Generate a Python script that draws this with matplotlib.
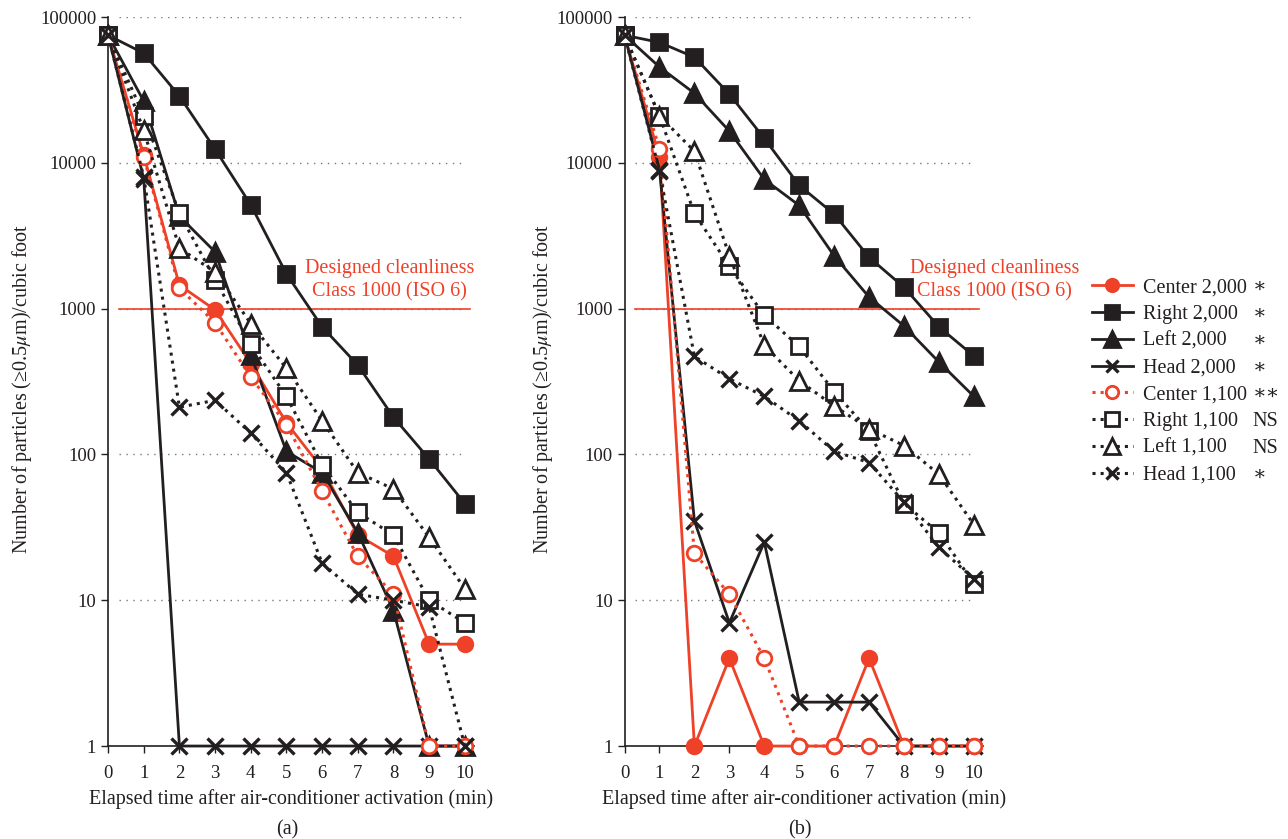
import matplotlib
matplotlib.use('Agg')
import matplotlib.pyplot as plt

plt.rcParams['font.family'] = ['Liberation Serif', 'DejaVu Serif']
plt.rcParams['mathtext.fontset'] = 'stix'

red = '#ee4128'
black = '#231f20'

minutes = list(range(0, 11))

# panel (a)
a_center_2000 = [75000, 11300, 1450, 980, 420, 165, 80, 28, 20, 5, 5]
a_right_2000 = [75000, 56500, 28700, 12400, 5150, 1730, 750, 410, 180, 93, 46]
a_left_2000 = [75000, 26500, 4300, 2450, 480, 105, 75, 29, 8.5, 1, 1]
a_head_2000 = [75000, 7800, 1, 1, 1, 1, 1, 1, 1, 1, 1]
a_center_1100 = [75000, 11000, 1380, 800, 340, 160, 56, 20, 11, 1, 1]
a_right_1100 = [75000, 21000, 4500, 1580, 570, 250, 85, 40, 28, 10, 7]
a_left_1100 = [75000, 16700, 2600, 1780, 790, 390, 170, 75, 58, 27, 12]
a_head_1100 = [75000, 8000, 211, 235, 140, 75, 18, 11, 10, 9, 1]

# panel (b)
b_center_2000 = [75000, 11000, 1, 4, 1, 1, 1, 4, 1, 1, 1]
b_right_2000 = [75000, 67000, 53000, 29600, 14700, 7000, 4450, 2250, 1400, 750, 473]
b_left_2000 = [75000, 45400, 30000, 16500, 7700, 5100, 2300, 1200, 760, 430, 250]
b_head_2000 = [75000, 9000, 35, 7, 25, 2, 2, 2, 1, 1, 1]
b_center_1100 = [75000, 12500, 21, 11, 4, 1, 1, 1, 1, 1, 1]
b_right_1100 = [75000, 21000, 4500, 1950, 900, 550, 270, 145, 46, 29, 13]
b_left_1100 = [75000, 21000, 12000, 2300, 560, 320, 215, 150, 115, 73, 33]
b_head_1100 = [75000, 8800, 470, 330, 250, 170, 105, 88, 47, 23, 14]

labels = ['Center 2,000', 'Right 2,000', 'Left 2,000', 'Head 2,000',
          'Center 1,100', 'Right 1,100', 'Left 1,100', 'Head 1,100']
significance = ['\u2217', '\u2217', '\u2217', '\u2217', '\u2217\u2217', 'NS', 'NS', '\u2217']

class_limit = 1000
class_text = 'Designed cleanliness\nClass 1000 (ISO 6)'
ylabel = 'Number of particles (\u22650.5$\\mu$m)/cubic foot'
xlabel = 'Elapsed time after air-conditioner activation (min)'

# one style per series: color, marker, filled, linestyle, markersize
styles = [
    (red, 'o', True, '-', 10.5),
    (black, 's', True, '-', 12),
    (black, '^', True, '-', 13),
    (black, 'x', True, '-', 11),
    (red, 'o', False, ':', 10.5),
    (black, 's', False, ':', 12),
    (black, '^', False, ':', 13),
    (black, 'x', False, ':', 11),
]


def draw_panel(ax, series, label_x, text_x, ylab_x):
    handles = []
    for values, (color, marker, filled, ls, ms), label in zip(series, styles, labels):
        face = color if filled else 'white'
        mew = 2.4 if marker == 'x' else 2
        h, = ax.plot(minutes, values, color=color, linestyle=ls,
                     linewidth=2 if ls == '-' else 2.2,
                     marker=marker, markersize=ms, markerfacecolor=face,
                     markeredgecolor=color, markeredgewidth=mew,
                     label=label, clip_on=False, zorder=3)
        handles.append(h)
    ax.set_yscale('log')
    ax.set_ylim(1, 100000)
    ax.set_xlim(0, 10.25)
    ax.set_yticks([1, 10, 100, 1000, 10000, 100000])
    ax.set_yticklabels(['1', '10', '100', '1000', '10000', '100000'])
    ax.minorticks_off()
    ax.set_xticks(minutes)
    ax.tick_params(labelsize=13.5, length=5, width=1, color=black, labelcolor=black)
    ax.tick_params(axis='x', pad=9)
    ax.spines['top'].set_visible(False)
    ax.spines['right'].set_visible(False)
    for s in ['left', 'bottom']:
        ax.spines[s].set_color(black)
        ax.spines[s].set_linewidth(1.2)
    for v in [10, 100, 1000, 10000, 100000]:
        ax.axhline(v, xmin=0.03, xmax=0.98, color='#777777', linestyle=(0, (1, 4)),
                   linewidth=1, zorder=1)
    ax.axhline(class_limit, xmin=0.03, xmax=0.99, color=red, linewidth=1.2, zorder=2)
    ax.text(text_x, class_limit * 1.12, class_text, color=red, fontsize=14.5,
            ha='center', va='bottom', linespacing=1.3, zorder=4)
    ax.set_xlabel(xlabel, fontsize=14.5, color=black, labelpad=5)
    ax.set_ylabel(ylabel, fontsize=14.5, color=black)
    ax.yaxis.set_label_coords(ylab_x, 0.49)
    ax.text(0.49, -0.115, label_x, transform=ax.transAxes, fontsize=14.5,
            ha='center', va='center', color=black)
    return handles


fig = plt.figure(figsize=(12.88, 8.39), dpi=100)
ax1 = fig.add_axes([0.0839, 0.1108, 0.2839, 0.8689])
ax2 = fig.add_axes([0.4849, 0.1108, 0.2780, 0.8689])

draw_panel(ax1, [a_center_2000, a_right_2000, a_left_2000, a_head_2000,
                 a_center_1100, a_right_1100, a_left_1100, a_head_1100], '(a)', 7.9, -0.203)
handles = draw_panel(ax2, [b_center_2000, b_right_2000, b_left_2000, b_head_2000,
                           b_center_1100, b_right_1100, b_left_1100, b_head_1100], '(b)', 10.6, -0.195)

leg = fig.legend(handles=handles, labels=labels, loc='upper left',
                 bbox_to_anchor=(0.834, 0.69), frameon=False, fontsize=14.5,
                 handlelength=2.0, handletextpad=0.5, labelspacing=0.38,
                 markerscale=0.85)
for t in leg.get_texts():
    t.set_color(black)

fig.canvas.draw()
inv = fig.transFigure.inverted()
for t, sig in zip(leg.get_texts(), significance):
    bb = t.get_window_extent()
    y = inv.transform((0, (bb.y0 + bb.y1) / 2))[1]
    fig.text(0.9725, y, sig, fontsize=14.5, ha='left', va='center', color=black,
             family=['Liberation Serif', 'DejaVu Serif'])

fig.savefig('out.png', dpi=100)
